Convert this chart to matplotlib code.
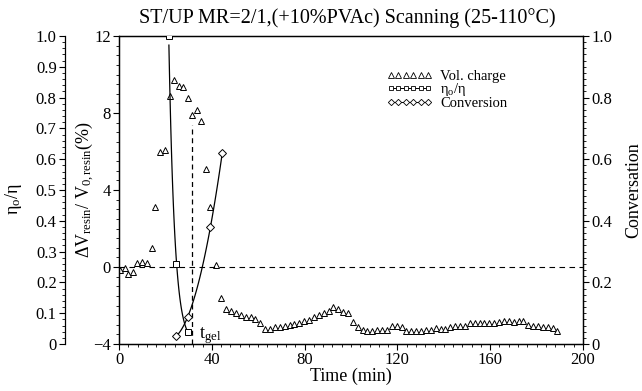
import matplotlib
matplotlib.use('Agg')
import matplotlib.pyplot as plt
from matplotlib.ticker import MultipleLocator, FuncFormatter
from matplotlib.lines import Line2D
import numpy as np

plt.rcParams['font.family'] = ['Liberation Serif', 'DejaVu Serif']
plt.rcParams['mathtext.fontset'] = 'custom'
plt.rcParams['mathtext.rm'] = 'Liberation Serif'
plt.rcParams['mathtext.it'] = 'Liberation Serif:italic'

# volume change of resin (%), triangles
vol_time = [0.4, 2.6, 3.9, 6.0, 7.7, 9.9, 12.0, 14.0, 15.5, 17.6, 19.7, 21.9, 23.6,
            25.8, 27.5, 29.6, 31.5, 33.4, 35.5, 37.6, 39.4, 41.6, 44.0, 46.2, 48.3,
            50.4, 52.5, 54.6, 56.7, 58.8, 60.9, 63.0, 65.1, 67.2, 69.3, 71.4, 73.5,
            75.6, 77.7, 79.8, 81.9, 84.0, 86.1, 88.2, 90.3, 92.4, 94.5, 96.6, 98.7,
            100.8, 102.9, 105.0, 107.1, 109.2, 111.3, 113.4, 115.5, 117.6, 119.7,
            121.8, 123.9, 126.0, 128.1, 130.2, 132.3, 134.4, 136.5, 138.6, 140.7,
            142.8, 144.9, 147.0, 149.1, 151.2, 153.3, 155.4, 157.5, 159.6, 161.7,
            163.8, 165.9, 168.0, 170.1, 172.2, 174.3, 176.4, 178.5, 180.6, 182.7,
            184.8, 186.9, 189.0]
vol_change = [-0.16, -0.05, -0.36, -0.26, 0.2, 0.26, 0.2, 1.0, 3.1, 6.0, 6.1, 8.9, 9.7,
              9.4, 9.35, 8.8, 7.9, 8.15, 7.6, 5.1, 3.1, 0.1, -1.6, -2.2, -2.3,
              -2.4, -2.5, -2.6, -2.6, -2.7, -2.9, -3.2, -3.2, -3.1, -3.1, -3.05, -3.0,
              -2.95, -2.9, -2.8, -2.75, -2.6, -2.5, -2.4, -2.3, -2.1, -2.2, -2.35, -2.4,
              -2.85, -3.1, -3.25, -3.3, -3.3, -3.25, -3.25, -3.25, -3.05, -3.05,
              -3.1, -3.3, -3.3, -3.3, -3.3, -3.25, -3.25, -3.15, -3.2, -3.2,
              -3.1, -3.05, -3.05, -3.05, -2.9, -2.9, -2.9, -2.9, -2.9, -2.9,
              -2.85, -2.8, -2.8, -2.85, -2.8, -2.8, -3.0, -3.05, -3.05, -3.1,
              -3.1, -3.15, -3.3]

# eta0/eta, squares
eta_time = [21.5, 24.7, 29.6]
eta_ratio = [1.0, 0.26, 0.04]

# conversion, diamonds
conv_time = [24.7, 29.6, 39.4, 44.5]
conv_value = [0.026, 0.088, 0.38, 0.62]

t_gel = 31.6

fig = plt.figure(figsize=(6.42, 3.91), dpi=100)
ax = fig.add_axes([0.1854, 0.1202, 0.7227, 0.7877])
ax_c = ax.twinx()
ax_e = ax.twinx()
ax_e.spines['left'].set_position(('axes', -0.1164))
ax_e.spines['right'].set_visible(False)
ax_e.spines['top'].set_visible(False)
ax_e.spines['bottom'].set_visible(False)
ax_e.yaxis.set_label_position('left')
ax_e.yaxis.set_ticks_position('left')

# volume change
ax.plot(vol_time, vol_change, ls='none', marker='^', ms=5, mfc='white', mec='black', mew=0.7)
ax.axhline(0, color='black', lw=0.8, ls=(0, (5, 4)))
ax.plot([t_gel, t_gel], [-4, 7.4], color='black', lw=0.9, ls=(0, (4, 3)))
ax.text(34.5, -3.7, 't$_{\\mathrm{gel}}$', fontsize=13, va='baseline')

# eta0/eta with exponential trend
c = np.polyfit(eta_time, np.log(eta_ratio), 1)
tt = np.linspace(eta_time[0], eta_time[-1], 100)
ax_e.plot(tt, np.exp(np.polyval(c, tt)), color='black', lw=0.9)
ax_e.plot(eta_time, eta_ratio, ls='none', marker='s', ms=4.5, mfc='white', mec='black', mew=0.7)

# conversion with quadratic trend
c2 = np.polyfit(conv_time, conv_value, 2)
tt2 = np.linspace(conv_time[0], conv_time[-1], 100)
ax_c.plot(tt2, np.polyval(c2, tt2), color='black', lw=0.9)
ax_c.plot(conv_time, conv_value, ls='none', marker='D', ms=4, mfc='white', mec='black', mew=0.7)

ax.set_xlim(0, 200)
ax.set_ylim(-4, 12)
ax_c.set_ylim(0, 1)
ax_e.set_ylim(0, 1)

fmt = FuncFormatter(lambda v, p: '0' if abs(v) < 1e-9 else '%.1f' % v)
ax.xaxis.set_major_locator(MultipleLocator(40))
ax.xaxis.set_minor_locator(MultipleLocator(4))
ax.yaxis.set_major_locator(MultipleLocator(4))
ax.yaxis.set_minor_locator(MultipleLocator(0.5))
ax_c.yaxis.set_major_locator(MultipleLocator(0.2))
ax_c.yaxis.set_minor_locator(MultipleLocator(0.02))
ax_c.yaxis.set_major_formatter(fmt)
ax_e.yaxis.set_major_locator(MultipleLocator(0.1))
ax_e.yaxis.set_minor_locator(MultipleLocator(0.02))
ax_e.yaxis.set_major_formatter(fmt)

for a in (ax, ax_c, ax_e):
    a.tick_params(which='major', direction='out', length=4, width=0.8, labelsize=12, pad=2)
    a.tick_params(which='minor', direction='out', length=2, width=0.6)
    for s in a.spines.values():
        s.set_linewidth(0.9)

ax.set_xlabel('Time (min)', fontsize=13)
ax.xaxis.set_label_coords(0.5, -0.078)
ax.set_ylabel('ΔV$_{\\mathrm{resin}}$/ V$_{\\mathrm{0,resin}}$(%)', fontsize=13)
ax.yaxis.set_label_coords(-0.05, 0.5)
ax_e.set_ylabel('$\\mathrm{\\eta_o/\\eta}$', fontsize=13)
ax_e.yaxis.set_label_coords(-0.205, 0.47)
ax_c.set_ylabel('Conversation', fontsize=13)
ax_c.yaxis.set_label_coords(1.09, 0.5)

fig.text(347 / 642, 1 - 18 / 391, 'ST/UP MR=2/1,(+10%PVAc) Scanning (25-110°C)',
         fontsize=14.5, ha='center', va='center')

handles = [
    Line2D([], [], ls='none', marker='^', ms=4, mfc='white', mec='black', mew=0.6),
    Line2D([], [], color='black', lw=0.7, marker='s', ms=3.5, mfc='white', mec='black', mew=0.6),
    Line2D([], [], color='black', lw=0.7, marker='D', ms=3.2, mfc='white', mec='black', mew=0.6),
]
labels = ['Vol. charge', '$\\mathrm{\\eta_o/\\eta}$', 'Conversion']
ax.legend(handles, labels, loc='upper left', bbox_to_anchor=(0.56, 0.915), frameon=False,
          numpoints=6, handlelength=3.2, handletextpad=0.5, labelspacing=-0.1,
          fontsize=10.5, borderpad=0)

fig.savefig('out.png', dpi=100)
